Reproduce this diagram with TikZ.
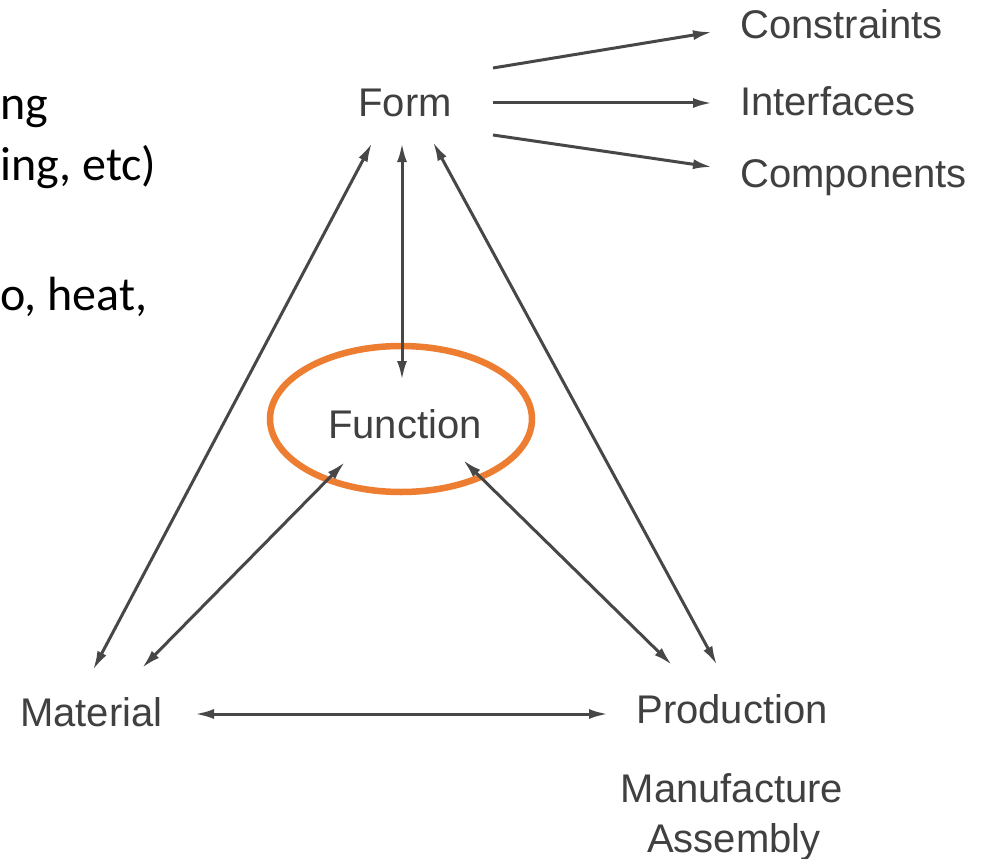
\documentclass[tikz,border=0pt]{standalone}
\usepackage{fontspec}
\setmainfont{Liberation Sans}
\newfontfamily\calib{Carlito}
\usetikzlibrary{arrows.meta,calc}
\definecolor{ringorange}{HTML}{ED7D31}
\begin{document}
\begin{tikzpicture}[x=1pt,y=-1pt,
  lbl/.style={font=\fontsize{40}{46}\selectfont, text=black!75, inner sep=0pt, anchor=base},
  side/.style={font=\calib\fontsize{48}{58}\selectfont, text=black, inner sep=0pt, anchor=base west},
  conn/.style={draw=black!72, line width=3pt},
  tipone/.style={-{Latex[length=19pt,width=10pt]}},
  tiptwo/.style={{Latex[length=19pt,width=10pt]}-{Latex[length=19pt,width=10pt]}},
  ring/.style={draw=ringorange, line width=6.5pt}
]
\fill[white] (0,0) rectangle (986,859);
\useasboundingbox (0,0) rectangle (986,859);

% cut-off text at the left
\node[side] (ng) at (0,120) {ng};
\node[side] (etc) at (0,180) {ing, etc)};
\node[side] (heat) at (0,310) {o, heat,};

% diagram labels
\node[lbl] (form) at (405,117) {Form};
\node[lbl] (func) at (405,438) {Function};
\node[lbl, anchor=base west] (mat) at (20,726) {Material};
\node[lbl] (prod) at (732,723) {Production};
\node[lbl] (manu) at (732,802) {Manufacture};
\node[lbl] (asm) at (734,852) {Assembly};
\node[lbl, anchor=base west] (cons) at (740,39) {Constraints};
\node[lbl, anchor=base west] (intf) at (740,115) {Interfaces};
\node[lbl, anchor=base west] (comp) at (740,187) {Components};

% orange ring around Function
\draw[ring] ($(func.base)+(-4,-19)$) ellipse [x radius=131pt, y radius=73pt];

% connectors
\draw[conn,tiptwo] ($(form.base)+(-33,26)$) -- ($(mat.base west)+(73,-56)$);
\draw[conn,tiptwo] ($(form.base)+(-3,26)$) -- ($(func.base)+(-3,-58)$);
\draw[conn,tiptwo] ($(form.base)+(28,25)$) -- ($(prod.base)+(-15,-58)$);
\draw[conn,tiptwo] ($(func.base)+(-60,24)$) -- ($(mat.base west)+(122,-58)$);
\draw[conn,tiptwo] ($(func.base)+(58,22)$) -- ($(prod.base)+(-60,-58)$);
\draw[conn,tiptwo] ($(mat.base west)+(175,-12)$) -- ($(prod.base)+(-124,-9)$);
\draw[conn,tipone] ($(form.base)+(88,-49)$) -- ($(cons.base west)+(-28,-7)$);
\draw[conn,tipone] ($(form.base)+(88,-14)$) -- ($(intf.base west)+(-28,-12)$);
\draw[conn,tipone] ($(form.base)+(88,18)$) -- ($(comp.base west)+(-28,-20)$);
\end{tikzpicture}
\end{document}
